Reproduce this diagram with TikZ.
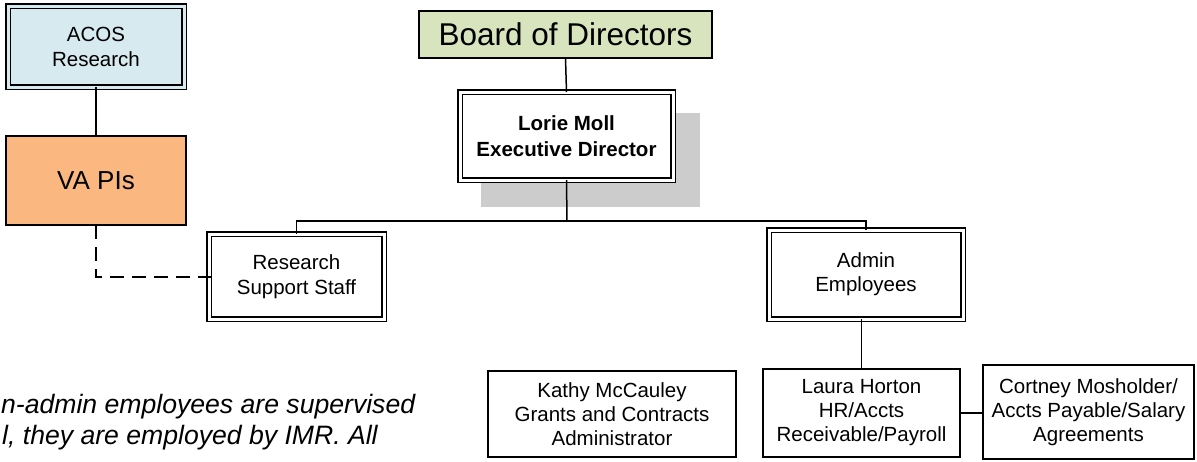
\documentclass[tikz,border=0pt]{standalone}
\usepackage{fontspec}
\setmainfont{Liberation Sans}
\definecolor{acosblue}{RGB}{214,234,240}
\definecolor{vaorange}{RGB}{250,183,127}
\definecolor{boardgreen}{RGB}{215,228,189}
\definecolor{shadowgray}{RGB}{204,204,204}
\tikzset{
  box/.style={draw=black, line width=1.6pt, inner sep=0pt, outer sep=0pt, align=center, fill=white,
    font=\fontsize{20.5}{25}\selectfont},
  dbox/.style={box, line width=1.5pt, double=white, double distance=3pt},
  conn/.style={draw=black, line width=1.5pt},
  dconn/.style={conn, dash pattern=on 14pt off 8pt},
  note/.style={anchor=base west, inner sep=0pt, font=\itshape\fontsize{26.6}{31}\selectfont}
}
\begin{document}
\begin{tikzpicture}[x=1pt,y=-1pt]
\useasboundingbox (0,0) rectangle (1197,461);
% shadow
\fill[shadowgray] (481,113) rectangle (700,207);
% nodes
\node[dbox, fill=acosblue, double=acosblue, minimum width=176pt, minimum height=81pt] (acos) at (96,46.5) {ACOS\\Research};
\node[box, line width=1.7pt, fill=vaorange, minimum width=180.3pt, minimum height=89.3pt, font=\fontsize{26}{30}\selectfont] (va) at (96,180.5) {VA PIs};
\node[box, line width=2pt, fill=boardgreen, minimum width=293pt, minimum height=47pt, font=\fontsize{31.5}{36}\selectfont] (board) at (565.5,34.5) {Board of Directors};
\node[dbox, minimum width=213pt, minimum height=88pt, font=\bfseries\fontsize{20.5}{26}\selectfont] (lorie) at (566.5,136) {Lorie Moll\\Executive Director};
\node[dbox, minimum width=175pt, minimum height=85pt] (res) at (296.5,276.5) {Research\\Support Staff};
\node[dbox, minimum width=194pt, minimum height=89pt, font=\fontsize{20.5}{24}\selectfont] (admin) at (866,274.5) {Admin\\Employees};
\node[box, minimum width=248.4pt, minimum height=86.4pt, font=\fontsize{20.5}{24}\selectfont] (kathy) at (612,414) {Kathy McCauley\\Grants and Contracts\\Administrator};
\node[box, minimum width=197.4pt, minimum height=88.4pt, font=\fontsize{20.5}{24}\selectfont] (laura) at (861.5,413) {Laura Horton\\HR/Accts\\Receivable/Payroll};
\node[box, minimum width=211.4pt, minimum height=94.4pt, font=\fontsize{20.5}{24}\selectfont] (cort) at (1088.5,412) {Cortney Mosholder/\\Accts Payable/Salary\\Agreements};
% note
\node[note] (note1) at (1,413) {n-admin employees are supervised};
\node[note] (note2) at (2,444) {l, they are employed by IMR. All};
% connectors
\draw[conn] (acos.south) -- (va.north);
\draw[conn] (board.south) -- (lorie.north);
\coordinate (bus) at (567,221);
\draw[conn] (lorie.south) -- (bus);
\draw[conn] (res.north) |- (bus) -| (admin.north);
\draw[conn] (laura.north) -- (laura.north |- admin.south);
\draw[conn] (laura.east) -- (laura.east -| cort.west);
\coordinate (dcorner) at (96,277);
\coordinate (dend) at (215,277);
\draw[dconn] (va.south) -- (dcorner) -- (dend);
\end{tikzpicture}
\end{document}
